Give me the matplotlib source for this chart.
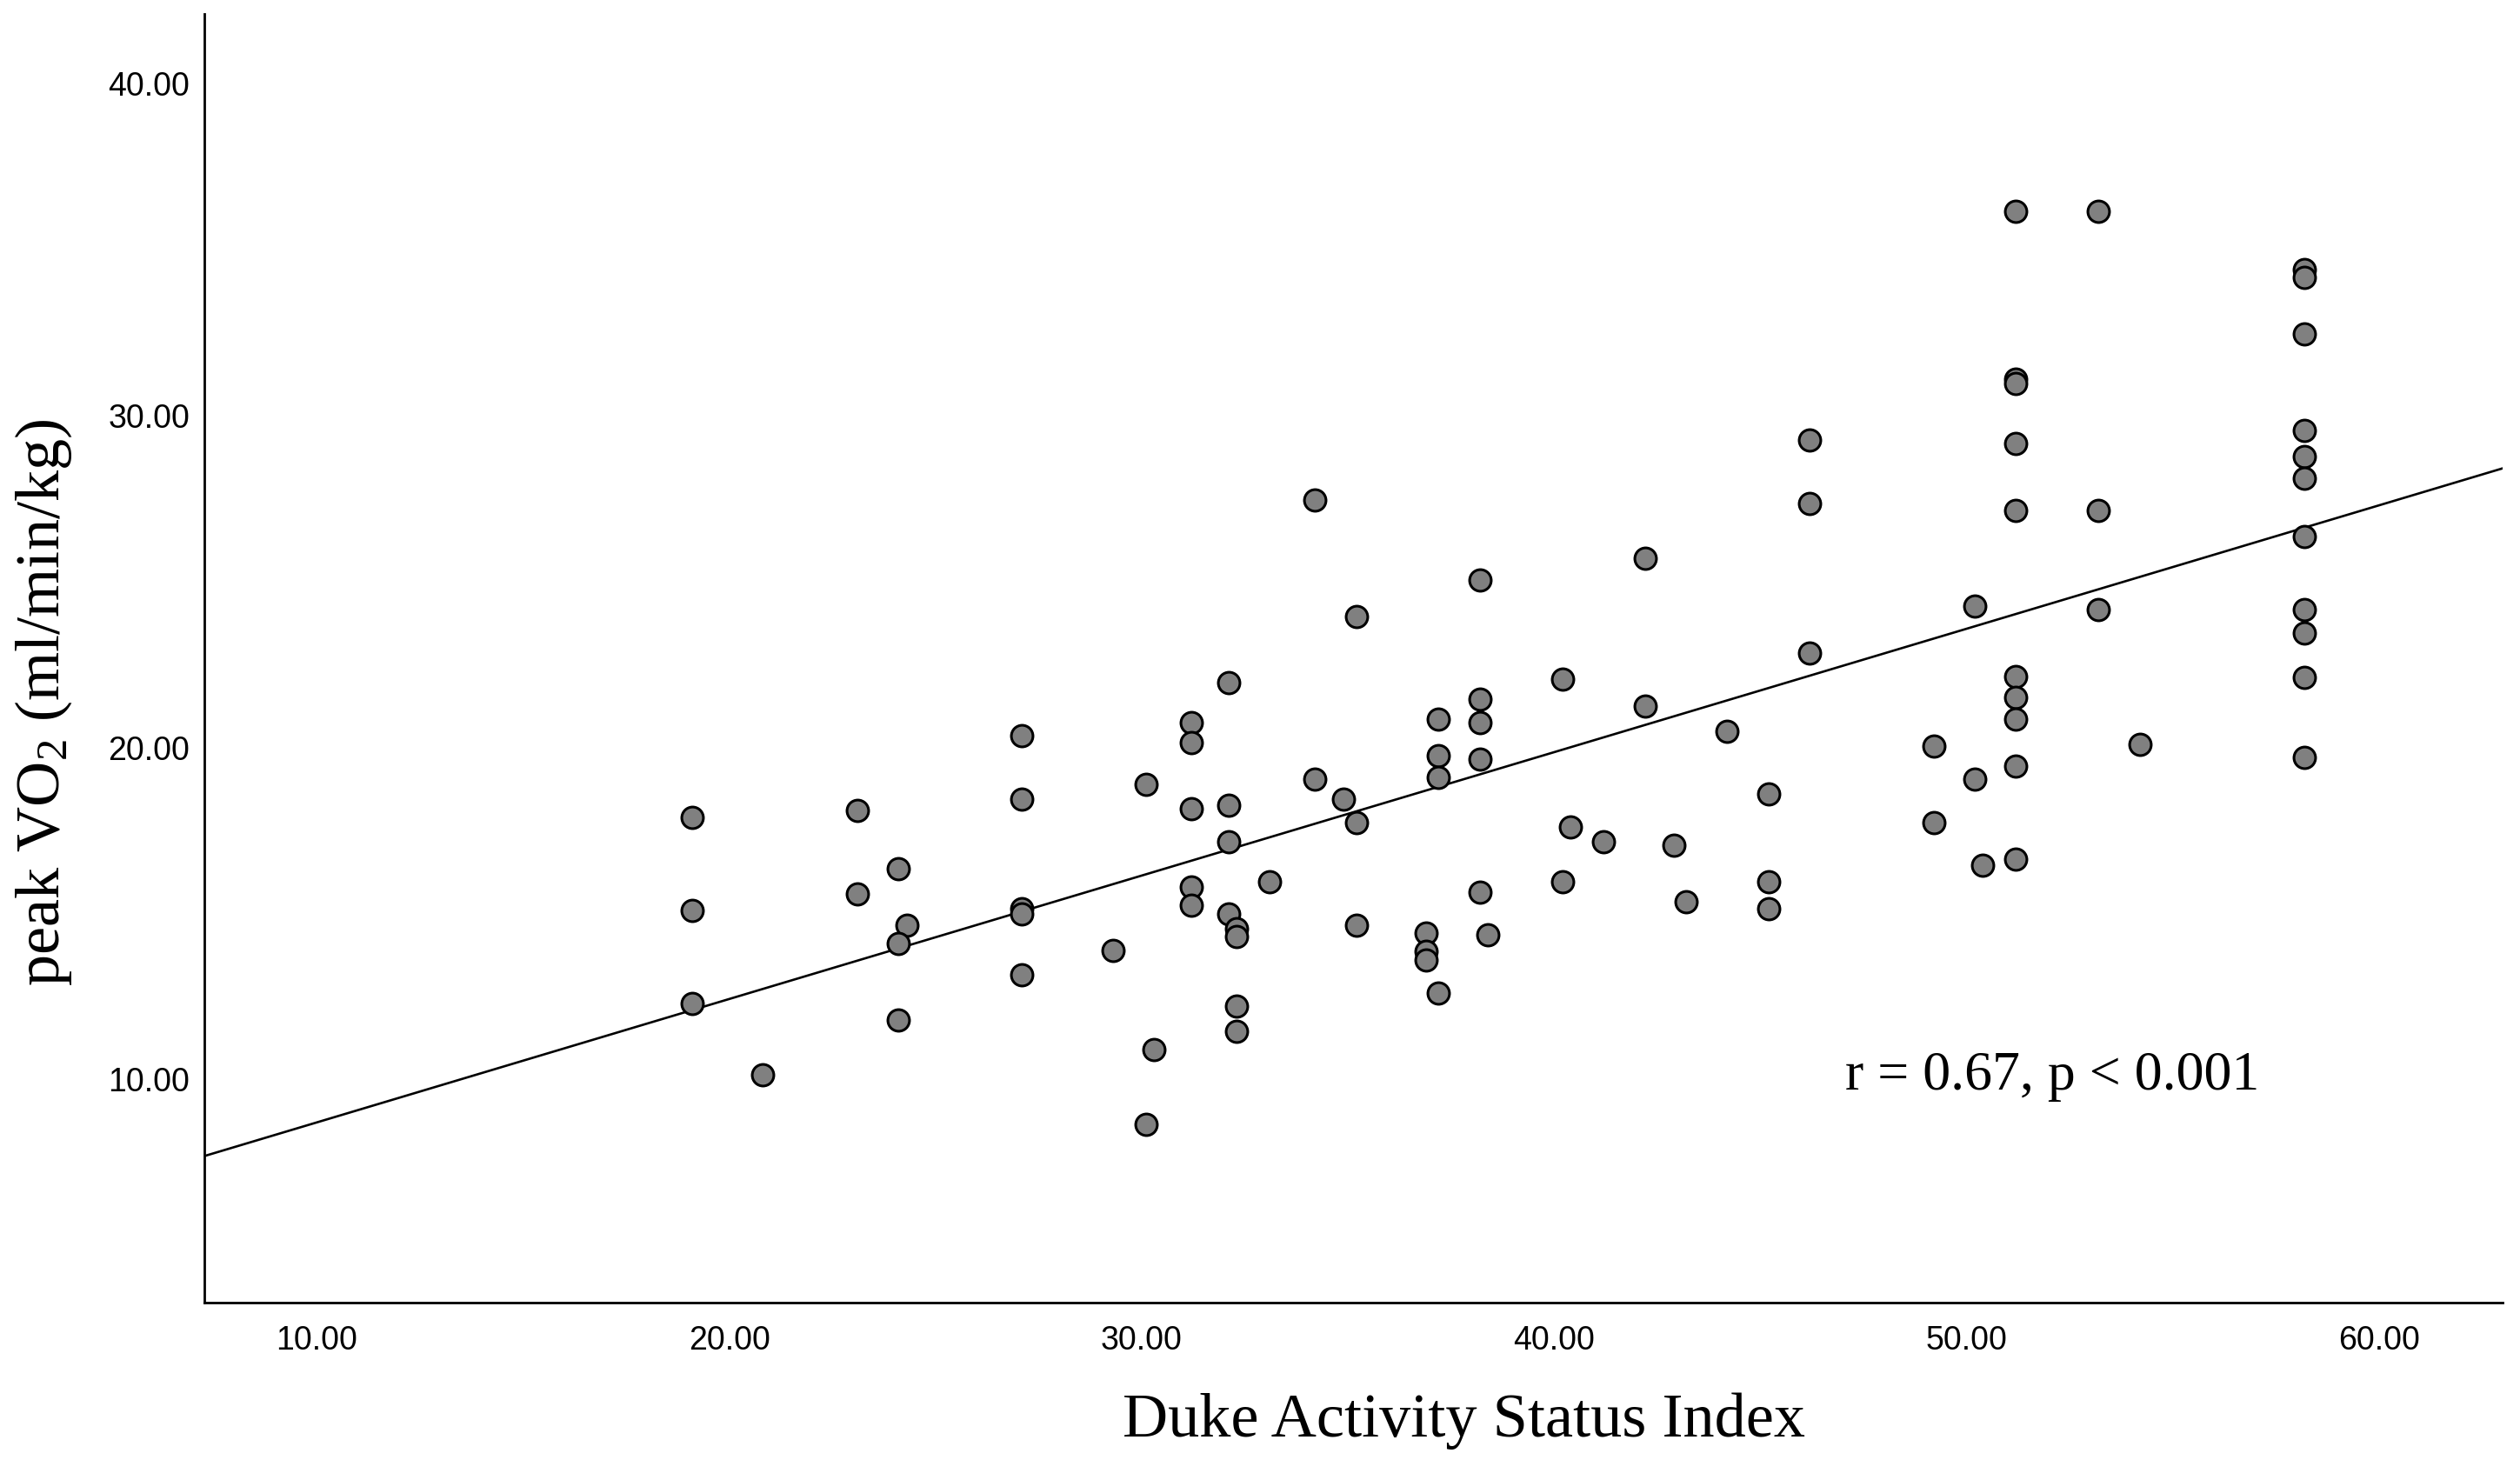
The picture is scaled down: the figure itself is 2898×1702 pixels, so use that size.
import numpy as np
import matplotlib
matplotlib.use('Agg')
import matplotlib.pyplot as plt

# Data (DASI vs peak VO2)
dasi = [19.1, 19.1, 19.1, 20.8, 23.1, 23.1, 24.1, 24.3, 24.1, 24.1,
        27.1, 27.1, 27.1, 27.1, 27.1, 29.3, 30.1, 30.3, 30.1,
        31.2, 31.2, 31.2, 31.2, 31.2, 32.1, 32.1, 32.1, 32.1, 32.3, 32.3, 32.3, 32.3,
        33.1, 34.2, 34.2, 34.9, 35.2, 35.2, 35.2,
        36.9, 36.9, 36.9, 37.2, 37.2, 37.2, 37.2,
        38.2, 38.2, 38.2, 38.2, 38.2, 38.4,
        40.2, 40.2, 40.4, 41.2, 42.2, 42.2, 42.9, 43.2, 44.2,
        45.2, 45.2, 45.2, 46.2, 46.2, 46.2,
        49.2, 49.2, 50.2, 50.2, 50.4,
        51.2, 51.2, 51.2, 51.2, 51.2, 51.2, 51.2, 51.2, 51.2, 51.2,
        53.2, 53.2, 53.2, 54.2,
        58.2, 58.2, 58.2, 58.2, 58.2, 58.2, 58.2, 58.2, 58.2, 58.2, 58.2]
peak_vo2 = [17.9, 15.1, 12.3, 10.15, 18.1, 15.6, 16.35, 14.65, 14.1, 11.8,
            20.35, 18.45, 15.15, 15.0, 13.15, 13.9, 18.9, 10.9, 8.65,
            20.75, 20.15, 18.15, 15.8, 15.25, 21.95, 18.25, 17.15, 15.0, 14.55, 14.3, 12.2, 11.45,
            15.95, 27.45, 19.05, 18.45, 23.95, 17.75, 14.65,
            14.4, 13.85, 13.6, 20.85, 19.75, 19.1, 12.6,
            25.05, 21.45, 20.75, 19.65, 15.65, 14.35,
            22.05, 15.95, 17.6, 17.15, 25.7, 21.25, 17.05, 15.35, 20.5,
            18.6, 15.95, 15.15, 29.25, 27.35, 22.85,
            20.05, 17.75, 24.25, 19.05, 16.45,
            36.15, 31.1, 30.95, 29.15, 27.15, 22.15, 21.5, 20.85, 19.45, 16.65,
            36.15, 27.15, 24.15, 20.1,
            34.4, 34.15, 32.45, 29.55, 28.75, 28.1, 26.35, 24.15, 23.45, 22.1, 19.7]

x_ticks = [10, 20, 30, 40, 50, 60]
y_ticks = [10, 20, 30, 40]
x_label = 'Duke Activity Status Index'
y_label = r'peak VO$_2$ (ml/min/kg)'
stat_text = 'r = 0.67, p < 0.001'

plt.rcParams['mathtext.fontset'] = 'custom'
plt.rcParams['mathtext.rm'] = 'Liberation Serif'
plt.rcParams['mathtext.it'] = 'Liberation Serif:italic'

fig = plt.figure(figsize=(28.98, 17.02), dpi=100)
ax = fig.add_axes([0.0811, 0.1198, 0.912, 0.871])

ax.set_xlim(7.27, 63.0)
ax.set_ylim(3.28, 42.1)

# points
ax.scatter(dasi, peak_vo2, s=320, facecolor='#808080', edgecolor='black',
           linewidth=2.2, zorder=3)

# linear fit line across the full axis
slope, intercept = np.polyfit(dasi, peak_vo2, 1)
xs = np.array(ax.get_xlim())
ax.plot(xs, intercept + slope * xs, color='black', linewidth=1.9, zorder=2)

ax.text(47.05, 9.71, stat_text, fontsize=46, family='Liberation Serif',
        ha='left', va='baseline')

# axes styling
for side in ['top', 'right']:
    ax.spines[side].set_visible(False)
for side in ['left', 'bottom']:
    ax.spines[side].set_linewidth(2)
ax.set_xticks(x_ticks)
ax.set_yticks(y_ticks)
ax.set_xticklabels([f'{v:.2f}' for v in x_ticks])
ax.set_yticklabels([f'{v:.2f}' for v in y_ticks])
ax.tick_params(axis='x', length=0, pad=19, labelsize=27)
ax.tick_params(axis='y', length=0, pad=12, labelsize=27)
for lbl in ax.get_xticklabels() + ax.get_yticklabels():
    lbl.set_family('Liberation Sans')

fig.text(0.581, 0.0294, x_label, fontsize=52, family='Liberation Serif',
         ha='center', va='baseline')
fig.text(0.0173, 0.5256, y_label, fontsize=52, family='Liberation Serif',
         ha='center', va='center', rotation=90)

fig.savefig('out.png', dpi=100, facecolor='white')
